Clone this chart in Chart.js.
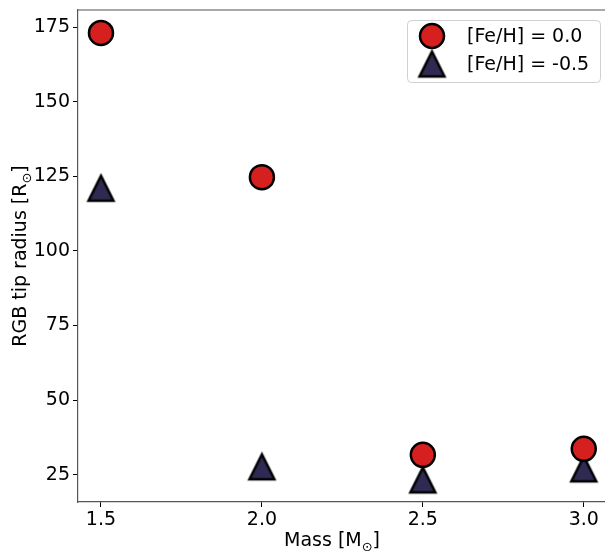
<!DOCTYPE html>
<html>
<head>
<meta charset="utf-8">
<script src="https://cdn.jsdelivr.net/npm/chart.js@4/dist/chart.umd.min.js"></script>
<style>
  html, body { margin: 0; padding: 0; background: #fff; }
  #wrap { width: 605px; height: 551px; }
</style>
</head>
<body>
<div id="wrap"><canvas id="rgb-chart" width="605" height="551"></canvas></div>
<script>
/* data */
const masses = [1.5, 2.0, 2.5, 3.0];
const radiusSolar = [173, 124.7, 31.7, 33.7];
const radiusSubSolar = [121, 27.7, 23.3, 27];
const seriesLabels = ['[Fe/H] = 0.0', '[Fe/H] = -0.5'];
const yTicks = [25, 50, 75, 100, 125, 150, 175];
const xTicks = [1.5, 2.0, 2.5, 3.0];

const FONT = 'DejaVu Sans';

/* matplotlib-like '^' marker as an image */
function makeTriangle(fill) {
    let c = document.createElement('canvas');
    c.width = 31; c.height = 31;
    let g = c.getContext('2d');
    g.beginPath();
    g.moveTo(15.5, 3);
    g.lineTo(3, 28);
    g.lineTo(28, 28);
    g.closePath();
    g.fillStyle = fill;
    g.fill();
    g.lineWidth = 2.5;
    g.lineJoin = 'miter';
    g.strokeStyle = '#000';
    g.stroke();
    return c;
}
let triangle = makeTriangle('#2e2a52');

function toPoints(ys) {
    return masses.map((m, i) => ({x: m, y: ys[i]}));
}

/* text with a ⊙ subscript */
function subText(ctx, parts, x, y, size) {
    ctx.font = size + 'px ' + FONT;
    let w1 = ctx.measureText(parts[0]).width;
    let w3 = ctx.measureText(parts[2]).width;
    ctx.font = Math.round(size * 0.7) + 'px ' + FONT;
    let w2 = ctx.measureText(parts[1]).width;
    let total = w1 + w2 + w3;
    let sx = x - total / 2;
    ctx.textAlign = 'left';
    ctx.textBaseline = 'alphabetic';
    ctx.fillStyle = '#000';
    ctx.font = size + 'px ' + FONT;
    ctx.fillText(parts[0], sx, y);
    ctx.font = Math.round(size * 0.7) + 'px ' + FONT;
    ctx.fillText(parts[1], sx + w1, y + size * 0.25);
    ctx.font = size + 'px ' + FONT;
    ctx.fillText(parts[2], sx + w1 + w2, y);
}

const extras = {
    id: 'extras',
    afterDraw(chart) {
        let ctx = chart.ctx;
        let a = chart.chartArea;
        ctx.save();
        // top spine
        ctx.strokeStyle = '#555';
        ctx.lineWidth = 1.2;
        ctx.beginPath();
        ctx.moveTo(a.left, a.top);
        ctx.lineTo(a.right, a.top);
        ctx.stroke();

        // axis titles
        subText(ctx, ['Mass [M', '\u2299', ']'], 332, 546, 19);
        ctx.save();
        ctx.translate(26, (a.top + a.bottom) / 2);
        ctx.rotate(-Math.PI / 2);
        subText(ctx, ['RGB tip radius [R', '\u2299', ']'], 0, 0, 19);
        ctx.restore();

        // legend box
        let bx = 407, by = 20, bw = 193, bh = 62;
        ctx.fillStyle = 'rgba(255,255,255,0.8)';
        ctx.strokeStyle = '#d0d0d0';
        ctx.lineWidth = 1;
        ctx.beginPath();
        ctx.roundRect(bx + 0.5, by + 0.5, bw, bh, 4);
        ctx.fill();
        ctx.stroke();

        chart.data.datasets.forEach((ds, i) => {
            let cy = 36 + i * 28;
            if (ds.pointStyle === 'circle') {
                ctx.beginPath();
                ctx.arc(432, cy, ds.pointRadius, 0, Math.PI * 2);
                ctx.fillStyle = ds.backgroundColor;
                ctx.fill();
                ctx.lineWidth = ds.borderWidth;
                ctx.strokeStyle = ds.borderColor;
                ctx.stroke();
            } else {
                ctx.drawImage(ds.pointStyle, 432 - 15.5, cy - 15.5);
            }
            ctx.fillStyle = '#000';
            ctx.font = '19px ' + FONT;
            ctx.textAlign = 'left';
            ctx.textBaseline = 'middle';
            ctx.fillText(ds.label, 467, cy + 1);
        });
        ctx.restore();
    }
};

function noPad(s) {
    s.paddingLeft = 0; s.paddingRight = 0;
    s.paddingTop = 0; s.paddingBottom = 0;
}

let ctx = document.getElementById('rgb-chart').getContext('2d');

let chart = new Chart(ctx, {
    type: 'scatter',
    data: {
        datasets: [{
            label: seriesLabels[0],
            data: toPoints(radiusSolar),
            pointStyle: 'circle',
            pointRadius: 12,
            pointHoverRadius: 12,
            backgroundColor: '#d61f1f',
            borderColor: '#000',
            borderWidth: 2.5
        }, {
            label: seriesLabels[1],
            data: toPoints(radiusSubSolar),
            pointStyle: triangle,
            pointRadius: 15,
            pointHoverRadius: 15,
            backgroundColor: '#2e2a52',
            borderColor: '#000',
            borderWidth: 0
        }]
    },
    options: {
        responsive: false,
        animation: false,
        layout: {
            autoPadding: false,
            padding: { top: 10, right: 0, left: 0, bottom: 0 }
        },
        plugins: {
            legend: { display: false },
            tooltip: { enabled: false }
        },
        scales: {
            x: {
                type: 'linear',
                min: 1.4286,
                max: 3.066,
                afterFit(s) { s.height = 49; noPad(s); },
                afterBuildTicks(s) { s.ticks = xTicks.map(v => ({value: v})); },
                ticks: {
                    font: { family: FONT, size: 19 },
                    color: '#000',
                    padding: 2,
                    maxRotation: 0,
                    callback: v => v.toFixed(1)
                },
                grid: {
                    drawOnChartArea: false,
                    drawTicks: true,
                    tickLength: 5,
                    tickColor: '#000'
                },
                border: { display: true, color: '#555', width: 1.2 }
            },
            y: {
                type: 'linear',
                min: 15.9,
                max: 180.7,
                afterFit(s) { s.width = 78; noPad(s); },
                afterBuildTicks(s) { s.ticks = yTicks.map(v => ({value: v})); },
                ticks: {
                    font: { family: FONT, size: 19 },
                    color: '#000',
                    padding: 3
                },
                grid: {
                    drawOnChartArea: false,
                    drawTicks: true,
                    tickLength: 5,
                    tickColor: '#000'
                },
                border: { display: true, color: '#555', width: 1.2 }
            }
        }
    },
    plugins: [extras]
});
</script>
</body>
</html>
